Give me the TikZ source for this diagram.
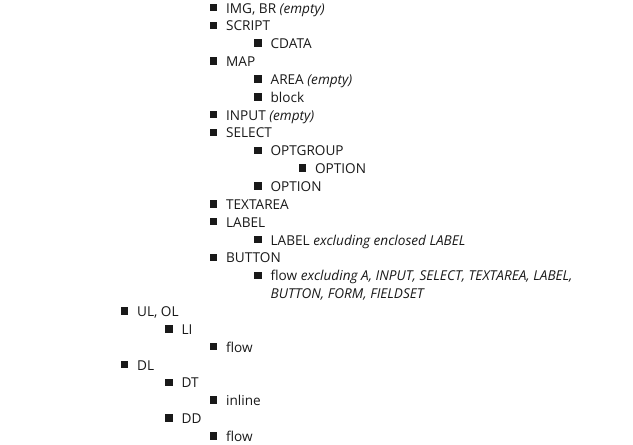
\documentclass[tikz,border=0pt]{standalone}
\usepackage{fontspec}
\setmainfont{Open Sans}
\usetikzlibrary{positioning}

\begin{document}
\begin{tikzpicture}[x=1pt, y=-1pt,
  bul/.style={fill=black!90, minimum size=7.5pt, inner sep=0pt},
  txt/.style={base right=8.5pt of #1, yshift=-5.5pt, inner sep=0pt, text=black!90, align=left,
    font=\fontsize{13.6}{17.85}\selectfont}]
  \useasboundingbox (0,0) rectangle (633,445);
  % inline and replaced elements
  \node[bul] (bimg) at (213.5,7.5) {};      \node[txt=bimg] (img) {IMG, BR \textit{(empty)}};
  \node[bul] (bscript) at (213.5,25.35) {}; \node[txt=bscript] (script) {SCRIPT};
  \node[bul] (bcdata) at (258,43.2) {};     \node[txt=bcdata] (cdata) {CDATA};
  \node[bul] (bmap) at (213.5,61.05) {};    \node[txt=bmap] (map) {MAP};
  \node[bul] (barea) at (258,78.9) {};      \node[txt=barea] (area) {AREA \textit{(empty)}};
  \node[bul] (bblock) at (258,96.75) {};    \node[txt=bblock] (block) {block};
  % form controls
  \node[bul] (binput) at (213.5,114.6) {};  \node[txt=binput] (input) {INPUT \textit{(empty)}};
  \node[bul] (bselect) at (213.5,132.45) {};\node[txt=bselect] (select) {SELECT};
  \node[bul] (bgroup) at (258,150.3) {};    \node[txt=bgroup] (optgroup) {OPTGROUP};
  \node[bul] (bopt1) at (302.5,168.15) {};  \node[txt=bopt1] (opt1) {OPTION};
  \node[bul] (bopt2) at (258,186) {};       \node[txt=bopt2] (opt2) {OPTION};
  \node[bul] (btarea) at (213.5,203.85) {}; \node[txt=btarea] (textarea) {TEXTAREA};
  \node[bul] (blabel) at (213.5,221.7) {};  \node[txt=blabel] (label) {LABEL};
  \node[bul] (blabin) at (258,239.55) {};   \node[txt=blabin] (labin) {LABEL \textit{excluding enclosed LABEL}};
  \node[bul] (bbutton) at (213.5,257.4) {}; \node[txt=bbutton] (button) {BUTTON};
  \node[bul] (bbutin) at (258,275.25) {};   \node[txt=bbutin, yshift=-17.85pt] (butin) {flow \textit{excluding A, INPUT, SELECT, TEXTAREA, LABEL,}\\\textit{BUTTON, FORM, FIELDSET}};
  % lists
  \node[bul] (bul) at (124.5,310.95) {};    \node[txt=bul] (ulol) {UL, OL};
  \node[bul] (bli) at (169,328.8) {};       \node[txt=bli] (li) {LI};
  \node[bul] (blif) at (213.5,346.65) {};   \node[txt=blif] (liflow) {flow};
  \node[bul] (bdl) at (124.5,364.5) {};     \node[txt=bdl] (dl) {DL};
  \node[bul] (bdt) at (169,382.35) {};      \node[txt=bdt] (dt) {DT};
  \node[bul] (bdti) at (213.5,400.2) {};    \node[txt=bdti] (dtin) {inline};
  \node[bul] (bdd) at (169,418.05) {};      \node[txt=bdd] (dd) {DD};
  \node[bul] (bddf) at (213.5,435.9) {};    \node[txt=bddf] (ddflow) {flow};
\end{tikzpicture}
\end{document}
